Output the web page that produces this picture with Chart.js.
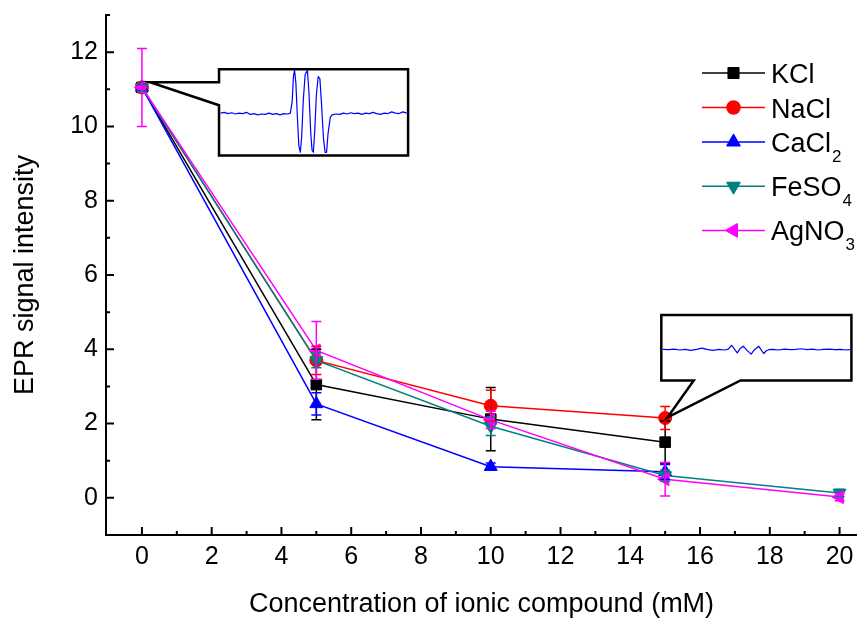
<!DOCTYPE html>
<html>
<head>
<meta charset="utf-8">
<script src="https://cdn.jsdelivr.net/npm/chart.js@4.4.0/dist/chart.umd.min.js"></script>
<style>
html, body { margin: 0; padding: 0; background: #fff; }
</style>
</head>
<body>
<canvas id="chart" width="857" height="618"></canvas>
<script>
// data
const concentration = [0, 5, 10, 15, 20]
const labels = ['KCl', 'NaCl', 'CaCl2', 'FeSO4', 'AgNO3']
const kcl   = [11.05, 3.05, 2.12, 1.50]
const nacl  = [11.05, 3.70, 2.48, 2.15]
const cacl2 = [11.05, 2.53, 0.84, 0.70]
const feso4 = [11.05, 3.70, 1.93, 0.60, 0.13]
const agno3 = [11.05, 3.97, 2.10, 0.50, 0.02]
const kclErr   = [0.10, 0.95, 0.85, 0.57]
const naclErr  = [0.10, 0.38, 0.42, 0.31]
const cacl2Err = [0.10, 0.30, 0.10, 0.20]
const feso4Err = [0.10, 0.20, 0.25, 0.15, 0.10]
const agno3Err = [1.05, 0.78, 0.23, 0.45, 0.10]
const xTicks = [0, 2, 4, 6, 8, 10, 12, 14, 16, 18, 20]
const yTicks = [0, 2, 4, 6, 8, 10, 12]

// EPR spectra shown in the two insets (x: 0..1 across box, y: -1..1)
const spec1X = [0, .02, .04, .06, .08, .10, .12, .14, .16, .18, .20, .22, .24, .26, .28, .30, .32, .34, .36, .375,
  .385, .392, .398, .405, .413, .421, .429, .436, .445, .455, .467, .475, .485, .492, .499, .507, .515, .525, .534,
  .543, .553, .562, .570, .578, .59, .60, .62, .64, .66, .68, .70, .72, .74, .76, .78, .80, .82, .84, .86, .88, .90,
  .92, .94, .96, .98, 1]
const spec1Y = [-.02, 0, -.03, -.01, -.04, -.02, -.03, 0, -.05, -.03, -.06, -.04, -.05, -.02, -.05, -.03, -.06, -.03, -.04, -.02,
  .25, .85, 1.0, .7, -.1, -.8, -.95, -.6, .3, .9, 1.0, .5, -.5, -.9, -.95, -.4, .4, .85, .8,
  .2, -.6, -.95, -.95, -.5, -.12, -.06, -.04, -.05, -.02, -.04, -.01, -.03, -.02, -.05, -.02, -.03, 0, -.03, -.05, -.02, -.03,
  .01, -.02, -.03, .01, -.02]
const spec2X = [0, .03, .06, .09, .12, .15, .18, .21, .24, .27, .30, .33, .35, .368, .383, .398, .414, .43, .45, .472,
  .49, .512, .525, .539, .552, .565, .59, .62, .65, .68, .71, .74, .77, .80, .83, .86, .89, .92, .95, .98, 1]
const spec2Y = [-.05, -.06, -.04, -.07, -.05, -.08, -.05, -.01, -.06, -.08, -.05, -.07, -.04, .08, -.04, -.16, -.02, .05, -.08, -.2,
  -.06, .05, -.06, -.18, -.1, -.06, -.05, -.07, -.04, -.06, -.05, -.03, -.06, -.04, -.07, -.05, -.04, -.06, -.05, -.07, -.06]

const colors = ['#000000', '#ff0000', '#0000ff', '#008080', '#ff00ff']
const styles = [['rect', 0, 7.5], ['circle', 0, 6.5], ['triangle', 0, 7.5], ['triangle', 180, 7.5], ['triangle', -90, 7.5]]
const series = [kcl, nacl, cacl2, feso4, agno3]
const errors = [kclErr, naclErr, cacl2Err, feso4Err, agno3Err]

const insets = [
  { box: [2.21, 7.63, 11.54, 9.22], notch: 'left', n1: 11.19, n2: 10.57, tip: [0.23, 11.19], sx: spec1X, sy: spec1Y },
  { box: [14.89, 20.34, 4.92, 3.16], notch: 'bottom', n1: 15.82, n2: 17.16, tip: [15.07, 2.17], sx: spec2X, sy: spec2Y }
]

const FONT = "'Liberation Sans', Arial, sans-serif"

const datasets = series.map((vals, i) => ({
  label: labels[i],
  data: vals.map((v, j) => ({ x: concentration[j], y: v })),
  borderColor: colors[i],
  backgroundColor: colors[i],
  borderWidth: 1.5,
  pointStyle: styles[i][0],
  pointRotation: styles[i][1],
  pointRadius: styles[i][2],
  pointBorderWidth: 1,
  clip: false,
  order: 4 - i
}))

const extras = {
  id: 'extras',
  afterDatasetsDraw(chart) {
    const ctx = chart.ctx, x = chart.scales.x, y = chart.scales.y
    chart.data.datasets.forEach((ds, i) => {
      ctx.save()
      ctx.strokeStyle = ds.borderColor
      ctx.lineWidth = 1.5
      ds.data.forEach((p, j) => {
        const e = errors[i][j]
        const px = x.getPixelForValue(p.x)
        const t = y.getPixelForValue(p.y + e), b = y.getPixelForValue(p.y - e)
        ctx.beginPath()
        ctx.moveTo(px, t); ctx.lineTo(px, b)
        ctx.moveTo(px - 5, t); ctx.lineTo(px + 5, t)
        ctx.moveTo(px - 5, b); ctx.lineTo(px + 5, b)
        ctx.stroke()
      })
      ctx.restore()
    })
  },
  afterDraw(chart) {
    const ctx = chart.ctx, x = chart.scales.x, y = chart.scales.y
    const area = chart.chartArea
    ctx.save()
    // inward ticks
    ctx.strokeStyle = '#000'
    ctx.lineWidth = 2
    ctx.beginPath()
    xTicks.forEach(v => {
      let px = x.getPixelForValue(v)
      ctx.moveTo(px, area.bottom); ctx.lineTo(px, area.bottom - 8)
      if (v + 1 <= x.max) {
        px = x.getPixelForValue(v + 1)
        ctx.moveTo(px, area.bottom); ctx.lineTo(px, area.bottom - 4)
      }
    })
    yTicks.forEach(v => {
      let py = y.getPixelForValue(v)
      ctx.moveTo(area.left, py); ctx.lineTo(area.left + 8, py)
      py = y.getPixelForValue(v + 1)
      ctx.moveTo(area.left, py); ctx.lineTo(area.left + 4, py)
    })
    ctx.stroke()

    // callout insets
    insets.forEach(ins => {
      const L = x.getPixelForValue(ins.box[0]), R = x.getPixelForValue(ins.box[1])
      const T = y.getPixelForValue(ins.box[2]), B = y.getPixelForValue(ins.box[3])
      const tx = x.getPixelForValue(ins.tip[0]), ty = y.getPixelForValue(ins.tip[1])
      ctx.beginPath()
      if (ins.notch === 'left') {
        const a = y.getPixelForValue(ins.n1), b = y.getPixelForValue(ins.n2)
        ctx.moveTo(L, T); ctx.lineTo(R, T); ctx.lineTo(R, B); ctx.lineTo(L, B)
        ctx.lineTo(L, b); ctx.lineTo(tx, ty); ctx.lineTo(L, a)
      } else {
        const a = x.getPixelForValue(ins.n1), b = x.getPixelForValue(ins.n2)
        ctx.moveTo(L, T); ctx.lineTo(R, T); ctx.lineTo(R, B); ctx.lineTo(b, B)
        ctx.lineTo(tx, ty); ctx.lineTo(a, B); ctx.lineTo(L, B)
      }
      ctx.closePath()
      ctx.fillStyle = '#fff'
      ctx.fill()
      ctx.lineWidth = 2.5
      ctx.strokeStyle = '#000'
      ctx.lineJoin = 'miter'
      ctx.stroke()
      // spectrum
      const mid = (T + B) / 2, half = (B - T) / 2 - 1
      ctx.beginPath()
      ins.sx.forEach((fx, k) => {
        const px = L + 1.5 + fx * (R - L - 3), py = mid - ins.sy[k] * half
        k ? ctx.lineTo(px, py) : ctx.moveTo(px, py)
      })
      ctx.strokeStyle = '#0000ff'
      ctx.lineWidth = 1.2
      ctx.lineJoin = 'round'
      ctx.stroke()
    })

    // legend
    let ry = 73
    chart.data.datasets.forEach((ds, i) => {
      ctx.strokeStyle = ds.borderColor
      ctx.fillStyle = ds.borderColor
      ctx.lineWidth = 1.5
      ctx.beginPath(); ctx.moveTo(702, ry); ctx.lineTo(765, ry); ctx.stroke()
      Chart.helpers.drawPoint(ctx, { pointStyle: ds.pointStyle, rotation: ds.pointRotation, radius: ds.pointRadius, borderWidth: 1 }, 733.5, ry)
      const m = ds.label.match(/^(.*?)(\d*)$/)
      ctx.fillStyle = '#000'
      ctx.textBaseline = 'alphabetic'
      ctx.font = '27px ' + FONT
      ctx.fillText(m[1], 771, ry + 10)
      if (m[2]) {
        const w = ctx.measureText(m[1]).width
        ctx.font = '17px ' + FONT
        ctx.fillText(m[2], 771 + w + 1, ry + 20)
      }
      ry += m[2] ? 44.2 : 34.5
    })
    ctx.restore()
  }
}

new Chart(document.getElementById('chart'), {
  type: 'line',
  data: { datasets },
  plugins: [extras],
  options: {
    responsive: false,
    animation: false,
    devicePixelRatio: 1,
    layout: { autoPadding: false, padding: { top: 15, right: 0, left: 0, bottom: 0 } },
    plugins: { legend: { display: false }, tooltip: { enabled: false } },
    scales: {
      x: {
        type: 'linear',
        min: -1.03,
        max: 20.5,
        afterBuildTicks: s => { s.ticks = xTicks.map(v => ({ value: v })) },
        afterFit: s => { s.height = 83; s.paddingLeft = 0; s.paddingRight = 0 },
        grid: { display: false, drawTicks: false },
        border: { display: true, color: '#000', width: 2 },
        ticks: { color: '#000', font: { family: FONT, size: 25 }, padding: 7, maxRotation: 0, autoSkip: false },
        title: { display: true, text: 'Concentration of ionic compound (mM)', color: '#000',
                 font: { family: FONT, size: 27, lineHeight: 1 }, padding: { top: 0, bottom: 0 } }
      },
      y: {
        min: -1,
        max: 13,
        afterBuildTicks: s => { s.ticks = yTicks.map(v => ({ value: v })) },
        afterFit: s => { s.width = 106; s.paddingTop = 0; s.paddingBottom = 0 },
        grid: { display: false, drawTicks: false },
        border: { display: true, color: '#000', width: 2 },
        ticks: { color: '#000', font: { family: FONT, size: 25 }, padding: 8 },
        title: { display: true, text: 'EPR signal intensity', color: '#000',
                 font: { family: FONT, size: 27, lineHeight: 1 }, padding: { top: 12, bottom: 0 } }
      }
    }
  }
})
</script>
</body>
</html>
